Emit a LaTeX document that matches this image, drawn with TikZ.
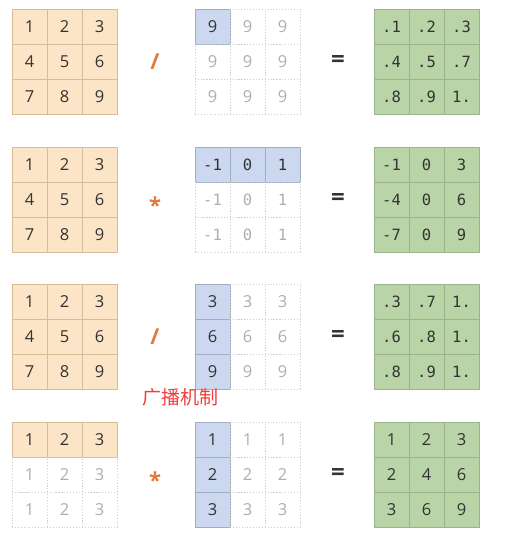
\documentclass[tikz,border=0pt]{standalone}
\usepackage{fontspec}
\setmainfont{Open Sans}
\setmonofont{DejaVu Sans Mono}
\newfontfamily\cjk{Noto Sans CJK SC}

\definecolor{peachfill}{HTML}{FCE5C6}
\definecolor{peachline}{HTML}{D6BD98}
\definecolor{bluefill}{HTML}{CCD8F0}
\definecolor{blueline}{HTML}{A0ADC2}
\definecolor{greenfill}{HTML}{B9D4A6}
\definecolor{greenline}{HTML}{9BB38C}
\definecolor{ghostline}{HTML}{CCCCCC}
\definecolor{ghosttext}{HTML}{AEAEAE}
\definecolor{numtext}{HTML}{333333}
\definecolor{optext}{HTML}{E07A3A}
\definecolor{notered}{HTML}{F23C3C}

\tikzset{
  cell/.style={minimum size=35pt, inner sep=0pt, outer sep=0pt, text=numtext,
    font=\fontsize{16.5}{18}\selectfont},
  peach/.style={cell, fill=peachfill, draw=peachline, line width=0.9pt},
  blue/.style={cell, fill=bluefill, draw=blueline, line width=0.9pt},
  green/.style={cell, fill=greenfill, draw=greenline, line width=0.9pt},
  ghost/.style={cell, draw=ghostline, dotted, line width=0.9pt, text=ghosttext},
  mono/.style={font=\ttfamily\fontsize{15.5}{18}\selectfont},
  opsign/.style={text=optext, font=\bfseries\fontsize{22}{24}\selectfont},
  eqsign/.style={text=numtext, font=\bfseries\fontsize{24}{26}\selectfont}
}

% one 3x3 block: name, left, top, extra style, list of style/value
\newcommand{\drawmat}[5]{%
  \foreach \sty/\val [count=\k from 0] in {#5} {
    \pgfmathtruncatemacro\cc{mod(\k,3)}
    \pgfmathtruncatemacro\rr{\k/3}
    \node[\sty,#4] (#1-\rr-\cc) at ({#2+17.5+35*\cc},{#3+17.5+35*\rr}) {\val};
  }%
}

\begin{document}
\begin{tikzpicture}[x=1pt,y=-1pt]
  \useasboundingbox (0,0) rectangle (505,541);
  % row 1 : division by a scalar
  \drawmat{a}{12}{9}{}{peach/1,peach/2,peach/3,peach/4,peach/5,peach/6,peach/7,peach/8,peach/9}
  \drawmat{b}{195}{9}{}{blue/9,ghost/9,ghost/9,ghost/9,ghost/9,ghost/9,ghost/9,ghost/9,ghost/9}
  \drawmat{c}{374}{9}{mono}{green/.1,green/.2,green/.3,green/.4,green/.5,green/.7,green/.8,green/.9,green/1.}
  \node[opsign] (op1) at (155,62) {/};
  \node[eqsign] (eq1) at (338,61) {=};
  % row 2 : times a row vector
  \drawmat{d}{12}{147}{}{peach/1,peach/2,peach/3,peach/4,peach/5,peach/6,peach/7,peach/8,peach/9}
  \drawmat{e}{195}{147}{mono}{blue/-1,blue/0,blue/1,ghost/-1,ghost/0,ghost/1,ghost/-1,ghost/0,ghost/1}
  \drawmat{f}{374}{147}{mono}{green/-1,green/0,green/3,green/-4,green/0,green/6,green/-7,green/0,green/9}
  \node[opsign] (op2) at (155,205) {*};
  \node[eqsign] (eq2) at (338,199) {=};
  % row 3 : divided by a column vector
  \drawmat{g}{12}{284}{}{peach/1,peach/2,peach/3,peach/4,peach/5,peach/6,peach/7,peach/8,peach/9}
  \drawmat{h}{195}{284}{}{blue/3,ghost/3,ghost/3,blue/6,ghost/6,ghost/6,blue/9,ghost/9,ghost/9}
  \drawmat{i}{374}{284}{mono}{green/.3,green/.7,green/1.,green/.6,green/.8,green/1.,green/.8,green/.9,green/1.}
  \node[opsign] (op3) at (155,337) {/};
  \node[eqsign] (eq3) at (338,336) {=};
  \node[text=notered, font=\cjk\fontsize{19}{21}\selectfont] (note) at (180,397) {广播机制};
  % row 4 : row vector times column vector
  \drawmat{j}{12}{422}{}{peach/1,peach/2,peach/3,ghost/1,ghost/2,ghost/3,ghost/1,ghost/2,ghost/3}
  \drawmat{k}{195}{422}{}{blue/1,ghost/1,ghost/1,blue/2,ghost/2,ghost/2,blue/3,ghost/3,ghost/3}
  \drawmat{l}{374}{422}{}{green/1,green/2,green/3,green/2,green/4,green/6,green/3,green/6,green/9}
  \node[opsign] (op4) at (155,480) {*};
  \node[eqsign] (eq4) at (338,474) {=};
\end{tikzpicture}
\end{document}
